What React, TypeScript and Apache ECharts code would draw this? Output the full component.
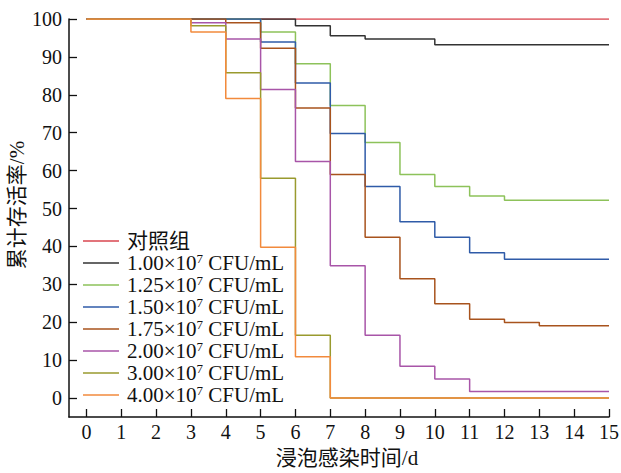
import React, { useEffect, useRef } from "react";
import * as echarts from "echarts";

const xTicks = [0, 1, 2, 3, 4, 5, 6, 7, 8, 9, 10, 11, 12, 13, 14, 15];
const yTicks = [0, 10, 20, 30, 40, 50, 60, 70, 80, 90, 100];
const xTitle = "浸泡感染时间/d";
const yTitle = "累计存活率/%";

const seriesNames = ["对照组", "1.00", "1.25", "1.50", "1.75", "2.00", "3.00", "4.00"];
const seriesColors = ["#d9464f", "#333333", "#8dc25a", "#2f5ba8", "#a8531d", "#a855a8", "#999a2e", "#f28a3c"];

const daysControl = [0, 15];
const valsControl = [100, 100];
const days100 = [0, 6, 7, 8, 10, 15];
const vals100 = [100, 98.2, 95.6, 94.7, 93.2, 93.2];
const days125 = [0, 5, 6, 7, 8, 9, 10, 11, 12, 15];
const vals125 = [100, 96.6, 88.2, 77.2, 67.4, 59, 55.8, 53.3, 52.2, 52.2];
const days150 = [0, 5, 6, 7, 8, 9, 10, 11, 12, 15];
const vals150 = [100, 93.9, 83.1, 69.8, 55.8, 46.5, 42.4, 38.3, 36.6, 36.6];
const days175 = [0, 4, 5, 6, 7, 8, 9, 10, 11, 12, 13, 15];
const vals175 = [100, 99, 92.3, 76.5, 59, 42.4, 31.5, 24.9, 20.8, 19.9, 19.1, 19.1];
const days200 = [0, 3, 4, 5, 6, 7, 8, 9, 10, 11, 15];
const vals200 = [100, 99, 94.7, 81.4, 62.4, 34.9, 16.6, 8.4, 5, 1.7, 1.7];
const days300 = [0, 3, 4, 5, 6, 7, 15];
const vals300 = [100, 98.2, 85.8, 58, 16.6, 0, 0];
const days400 = [0, 3, 4, 5, 6, 7, 15];
const vals400 = [100, 96.6, 79, 39.8, 10.9, 0, 0];

const allDays = [daysControl, days100, days125, days150, days175, days200, days300, days400];
const allVals = [valsControl, vals100, vals125, vals150, vals175, vals200, vals300, vals400];

const FONT = '"Liberation Serif", "Times New Roman", "Noto Sans CJK SC", serif';

export default function App() {
  const ref = useRef<HTMLDivElement>(null);
  useEffect(() => {
    if (!ref.current) return;
    const chart = echarts.init(ref.current, null, { renderer: "svg" });
    const series = seriesNames.map((name, i) => ({
      name,
      type: "line",
      step: "end",
      symbol: "none",
      showSymbol: false,
      data: allDays[i].map((d, j) => [d, allVals[i][j]]),
      lineStyle: { color: seriesColors[i], width: 1.5 },
      itemStyle: { color: seriesColors[i] },
      z: 2 + i,
    }));
    chart.setOption({
      animation: false,
      backgroundColor: "#ffffff",
      textStyle: { fontFamily: FONT },
      grid: { left: 69, right: 12, top: 19, bottom: 56, containLabel: false, outerBoundsMode: "none" },
      graphic: [
        {
          type: "text",
          x: 347,
          y: 458,
          style: { text: xTitle, fontFamily: FONT, fontSize: 21, fill: "#111", align: "center", verticalAlign: "middle" },
        },
        {
          type: "text",
          x: 17,
          y: 205,
          rotation: Math.PI / 2,
          style: { text: yTitle, fontFamily: FONT, fontSize: 21, fill: "#111", align: "center", verticalAlign: "middle" },
        },
      ],
      legend: {
        orient: "vertical",
        left: 83,
        top: 230,
        padding: 0,
        icon: "rect",
        itemWidth: 36,
        itemHeight: 1.6,
        itemGap: 0,
        selectedMode: false,
        data: seriesNames,
        formatter: (n: string) => (n === "对照组" ? n : `${n}×10{sup|7} CFU/mL`),
        textStyle: {
          fontFamily: FONT,
          fontSize: 21,
          color: "#111",
          lineHeight: 22,
          padding: [0, 0, 0, 3],
          rich: {
            sup: { fontSize: 13, verticalAlign: "top", lineHeight: 14, fontFamily: FONT, color: "#111" },
          },
        },
      },
      xAxis: {
        type: "value",
        min: -0.5,
        max: 15,
        splitLine: { show: false },
        axisLine: { onZero: false, lineStyle: { color: "#111", width: 1.5 } },
        axisTick: { inside: true, length: 8, customValues: xTicks, lineStyle: { color: "#111", width: 1.3 } },
        axisLabel: { customValues: xTicks, fontFamily: FONT, fontSize: 20, color: "#111", margin: 5 },
      },
      yAxis: {
        type: "value",
        min: -5,
        max: 100,
        splitLine: { show: false },
        axisLine: { show: true, onZero: false, lineStyle: { color: "#111", width: 1.5 } },
        axisTick: { show: true, inside: true, length: 8, customValues: yTicks, lineStyle: { color: "#111", width: 1.3 } },
        axisLabel: { customValues: yTicks, fontFamily: FONT, fontSize: 20, color: "#111", margin: 7 },
      },
      series,
    });
    return () => chart.dispose();
  }, []);
  return <div ref={ref} style={{ position: "absolute", left: 0, top: 0, width: 621, height: 473 }} />;
}
